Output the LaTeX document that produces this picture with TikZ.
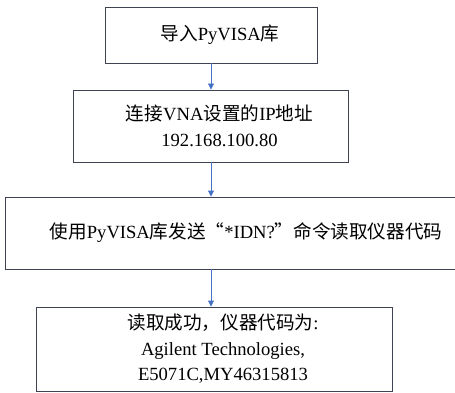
\documentclass[tikz,border=0pt]{standalone}
\usepackage{fontspec}
\setmainfont{Liberation Serif}
\newfontfamily\cjk{Noto Sans CJK SC}
\usetikzlibrary{arrows.meta, positioning}

\definecolor{boxline}{HTML}{3F4250}
\definecolor{arrowblue}{HTML}{4472C4}

\begin{document}
\begin{tikzpicture}[x=1pt, y=1pt,
    stepbox/.style={draw=boxline, line width=0.9pt, align=center,
      font=\fontsize{18.6}{25.5}\selectfont, inner sep=0pt},
    arr/.style={-{Triangle[length=6pt, width=6pt]}, arrowblue, line width=0.9pt},
  ]
    \useasboundingbox (0,0) rectangle (455,-393);

    % boxes
    \node[stepbox, minimum width=212pt, minimum height=56pt] (import) at (211,-35)
      {\hspace*{18pt}{\cjk 导入}PyVISA{\cjk 库}};
    \node[stepbox, minimum width=275pt, minimum height=72pt] (connect) at (210.5,-126)
      {\hspace*{18pt}{\cjk 连接}VNA{\cjk 设置的}IP{\cjk 地址}\\
       \hspace*{18pt}192.168.100.80};
    \node[stepbox, minimum width=464pt, minimum height=72pt] (query) at (237,-233)
      {\hspace*{18pt}{\cjk 使用}PyVISA{\cjk 库发送“}*IDN?{\cjk ”命令读取仪器代码}};
    \node[stepbox, minimum width=356pt, minimum height=84pt] (result) at (214,-349)
      {\hspace*{18pt}{\cjk 读取成功，仪器代码为}:\\
       \hspace*{18pt}Agilent Technologies,\\
       \hspace*{18pt}E5071C,MY46315813};

    % arrows
    \draw[arr] (import.south) -- (import.south |- connect.north);
    \draw[arr] (import.south |- connect.south) -- (import.south |- query.north);
    \draw[arr] (import.south |- query.south) -- (import.south |- result.north);
\end{tikzpicture}
\end{document}
